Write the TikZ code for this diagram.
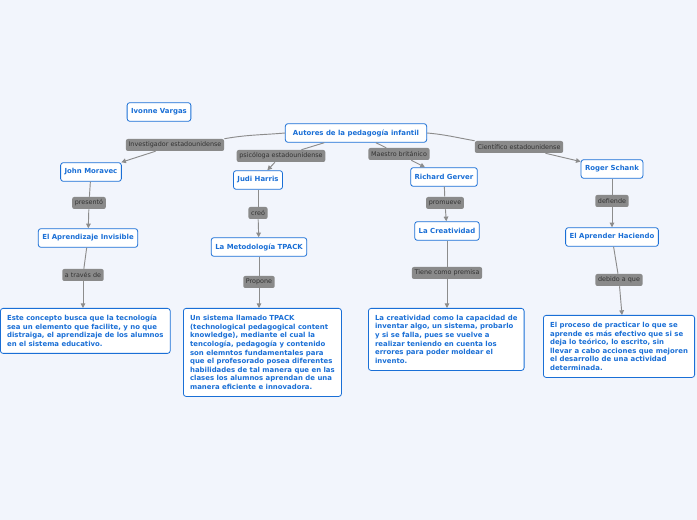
\documentclass[tikz,border=0pt]{standalone}
\usepackage{fontspec}
\setmainfont{DejaVu Sans}
\usetikzlibrary{arrows.meta}
\definecolor{bg}{HTML}{F2F5FC}
\definecolor{blu}{HTML}{1A6FD6}
\definecolor{gl}{HTML}{8A8A8A}
\definecolor{ln}{HTML}{8C8C8C}
\tikzset{
 topic/.style={draw=blu,fill=white,rounded corners=2pt,line width=0.6pt,text=blu,font=\fontsize{5.2}{6.5}\selectfont\bfseries,inner sep=3pt,minimum height=14pt},
 lab/.style={fill=gl,rounded corners=1.5pt,text=black!80,font=\fontsize{4.8}{6}\selectfont,inner sep=2pt,minimum height=9pt},
 txt/.style={topic,align=left,anchor=north west,inner sep=5pt},
 con/.style={draw=ln,line width=0.7pt},
 arr/.style={con,-{Triangle[length=3.5pt,width=3.5pt]}}
}
\begin{document}
\begin{tikzpicture}[x=0.75pt,y=-0.75pt]
\fill[bg] (0,0) rectangle (697,520);
\useasboundingbox (0,0) rectangle (697,520);
\node[topic] (iv) at (159,112) {Ivonne Vargas};
\node[topic,minimum width=106pt] (aut) at (356,133) {Autores de la pedagogía infantil};
\node[topic] (jm) at (91,172) {John Moravec};
\node[topic] (jh) at (258,180) {Judi Harris};
\node[topic] (rg) at (444,177) {Richard Gerver};
\node[topic] (rs) at (612,169) {Roger Schank};
\node[lab] (l1) at (175,145) {Investigador estadounidense};
\node[lab] (l2) at (281,156) {psicóloga estadounidense};
\node[lab] (l3) at (399,154) {Maestro británico};
\node[lab] (l4) at (519,147) {Científico estadounidense};
\node[lab] (p1) at (89,203) {presentó};
\node[lab] (p2) at (258,213) {creó};
\node[lab] (p3) at (445,203) {promueve};
\node[lab] (p4) at (612,201) {defiende};
\node[topic] (a1) at (88,238) {El Aprendizaje Invisible};
\node[topic] (a2) at (259,247) {La Metodología TPACK};
\node[topic] (a3) at (447,231) {La Creatividad};
\node[topic] (a4) at (612,237) {El Aprender Haciendo};
\node[lab] (q1) at (83,275) {a través de};
\node[lab] (q2) at (259,282) {Propone};
\node[lab] (q3) at (447,273) {Tiene como premisa};
\node[lab] (q4) at (619,280) {debido a que};
\node[txt] (t1) at (0,308) {Este concepto busca que la tecnología\\sea un elemento que facilite, y no que\\distraiga, el aprendizaje de los alumnos\\en el sistema educativo.};
\node[txt] (t2) at (183,308) {Un sistema llamado TPACK\\(technological pedagogical content\\knowledge), mediante el cual la\\tencología, pedagogía y contenido\\son elemntos fundamentales para\\que el profesorado posea diferentes\\habilidades de tal manera que en las\\clases los alumnos aprendan de una\\manera eficiente e innovadora.};
\node[txt] (t3) at (368,308) {La creatividad como la capacidad de\\inventar algo, un sistema, probarlo\\y si se falla, pues se vuelve a\\realizar teniendo en cuenta los\\errores para poder moldear el\\invento.};
\node[txt] (t4) at (543,315) {El proceso de practicar lo que se\\aprende es más efectivo que si se\\deja lo teórico, lo escrito, sin\\llevar a cabo acciones que mejoren\\el desarrollo de una actividad\\determinada.};
\draw[con] (aut.west) to[out=185,in=10] (l1.north east);
\draw[con] (aut) -- (l2);
\draw[con] (aut) -- (l3);
\draw[con] (aut.east) to[out=-5,in=170] (l4.north west);
\draw[arr] (l1) -- (jm);
\draw[arr] (l2) -- (jh);
\draw[arr] (l3) -- (rg);
\draw[arr] (l4) -- (rs);
\foreach \a/\b/\c in {jm/p1/a1,jh/p2/a2,rg/p3/a3,rs/p4/a4}{\draw[con] (\a) -- (\b); \draw[arr] (\b) -- (\c);}
\foreach \a/\b/\c in {a1/q1/t1,a2/q2/t2,a3/q3/t3,a4/q4/t4}{\draw[con] (\a) -- (\b);}
\draw[arr] (q1) -- (q1|-t1.north);
\draw[arr] (q2) -- (q2|-t2.north);
\draw[arr] (q3) -- (q3|-t3.north);
\draw[arr] (q4) -- (622,315);
\end{tikzpicture}
\end{document}
